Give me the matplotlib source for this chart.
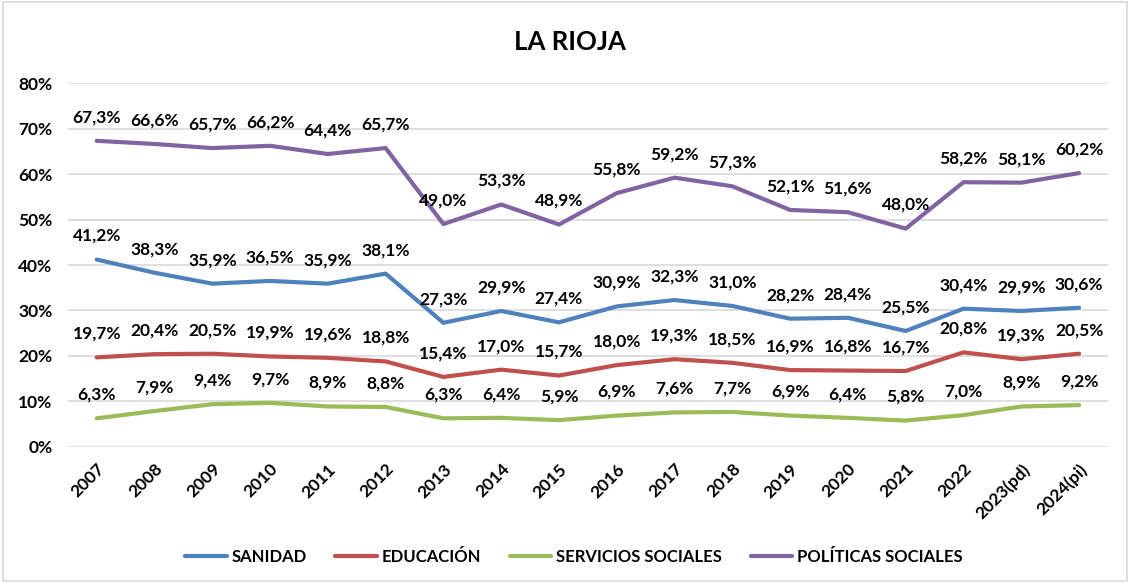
import matplotlib
matplotlib.use("Agg")
import matplotlib.pyplot as plt
from matplotlib.patches import Rectangle
from matplotlib.ticker import FuncFormatter

plt.rcParams['font.family'] = ['Lato', 'DejaVu Sans']

years = ["2007", "2008", "2009", "2010", "2011", "2012", "2013", "2014", "2015",
         "2016", "2017", "2018", "2019", "2020", "2021", "2022", "2023(pd)", "2024(pi)"]
sanidad = [41.2, 38.3, 35.9, 36.5, 35.9, 38.1, 27.3, 29.9, 27.4,
           30.9, 32.3, 31.0, 28.2, 28.4, 25.5, 30.4, 29.9, 30.6]
educacion = [19.7, 20.4, 20.5, 19.9, 19.6, 18.8, 15.4, 17.0, 15.7,
             18.0, 19.3, 18.5, 16.9, 16.8, 16.7, 20.8, 19.3, 20.5]
servicios = [6.3, 7.9, 9.4, 9.7, 8.9, 8.8, 6.3, 6.4, 5.9,
             6.9, 7.6, 7.7, 6.9, 6.4, 5.8, 7.0, 8.9, 9.2]
politicas = [67.3, 66.6, 65.7, 66.2, 64.4, 65.7, 49.0, 53.3, 48.9,
             55.8, 59.2, 57.3, 52.1, 51.6, 48.0, 58.2, 58.1, 60.2]

series = [
    ("SANIDAD", sanidad, "#4F81BD"),
    ("EDUCACIÓN", educacion, "#C0504D"),
    ("SERVICIOS SOCIALES", servicios, "#9BBB59"),
    ("POLÍTICAS SOCIALES", politicas, "#8064A2"),
]

fig = plt.figure(figsize=(11.3, 5.83), dpi=100)
ax = fig.add_axes([0.060, 0.2333, 0.9205, 0.6243])

x = list(range(len(years)))
for name, vals, color in series:
    ax.plot(x, vals, color=color, lw=3.0, label=name, solid_capstyle='round',
            solid_joinstyle='round', zorder=3)
    for xi, v in zip(x, vals):
        ax.annotate(f"{v:.1f}%".replace(".", ","), (xi, v), xytext=(0, 17),
                    textcoords="offset points", ha="center", va="center",
                    fontsize=12.5, fontweight="bold", color="black", zorder=4)

ax.set_xlim(-0.5, len(years) - 0.5)
ax.set_ylim(0, 80)
ax.set_yticks(range(0, 81, 10))
ax.yaxis.set_major_formatter(FuncFormatter(lambda v, p: f"{int(v)}%"))
ax.set_xticks(x)
ax.set_xticklabels(years, rotation=45, ha="right", va="top", rotation_mode="anchor")
for lbl in ax.get_xticklabels() + ax.get_yticklabels():
    lbl.set_fontweight("bold")
    lbl.set_fontsize(12.5)
ax.tick_params(axis="both", length=0)
ax.tick_params(axis="y", pad=11)
ax.tick_params(axis="x", pad=10)
ax.grid(axis="y", color="#D9D9D9", lw=1.2, zorder=0)
for s in ax.spines.values():
    s.set_visible(False)

fig.text(0.504, 0.928, "LA RIOJA", ha="center", va="center",
         fontsize=18.5, fontweight="bold")

leg = fig.legend(loc="center", bbox_to_anchor=(0.508, 0.045), ncol=4, frameon=False,
                 prop={"weight": "bold", "size": 12}, handlelength=2.5,
                 columnspacing=1.7, handletextpad=0.3)

fig.patches.append(Rectangle((0.003, 0.004), 0.994, 0.992, transform=fig.transFigure,
                             fill=False, edgecolor="#D9D9D9", lw=1.2))

fig.savefig("out.png", dpi=100, facecolor="white")
